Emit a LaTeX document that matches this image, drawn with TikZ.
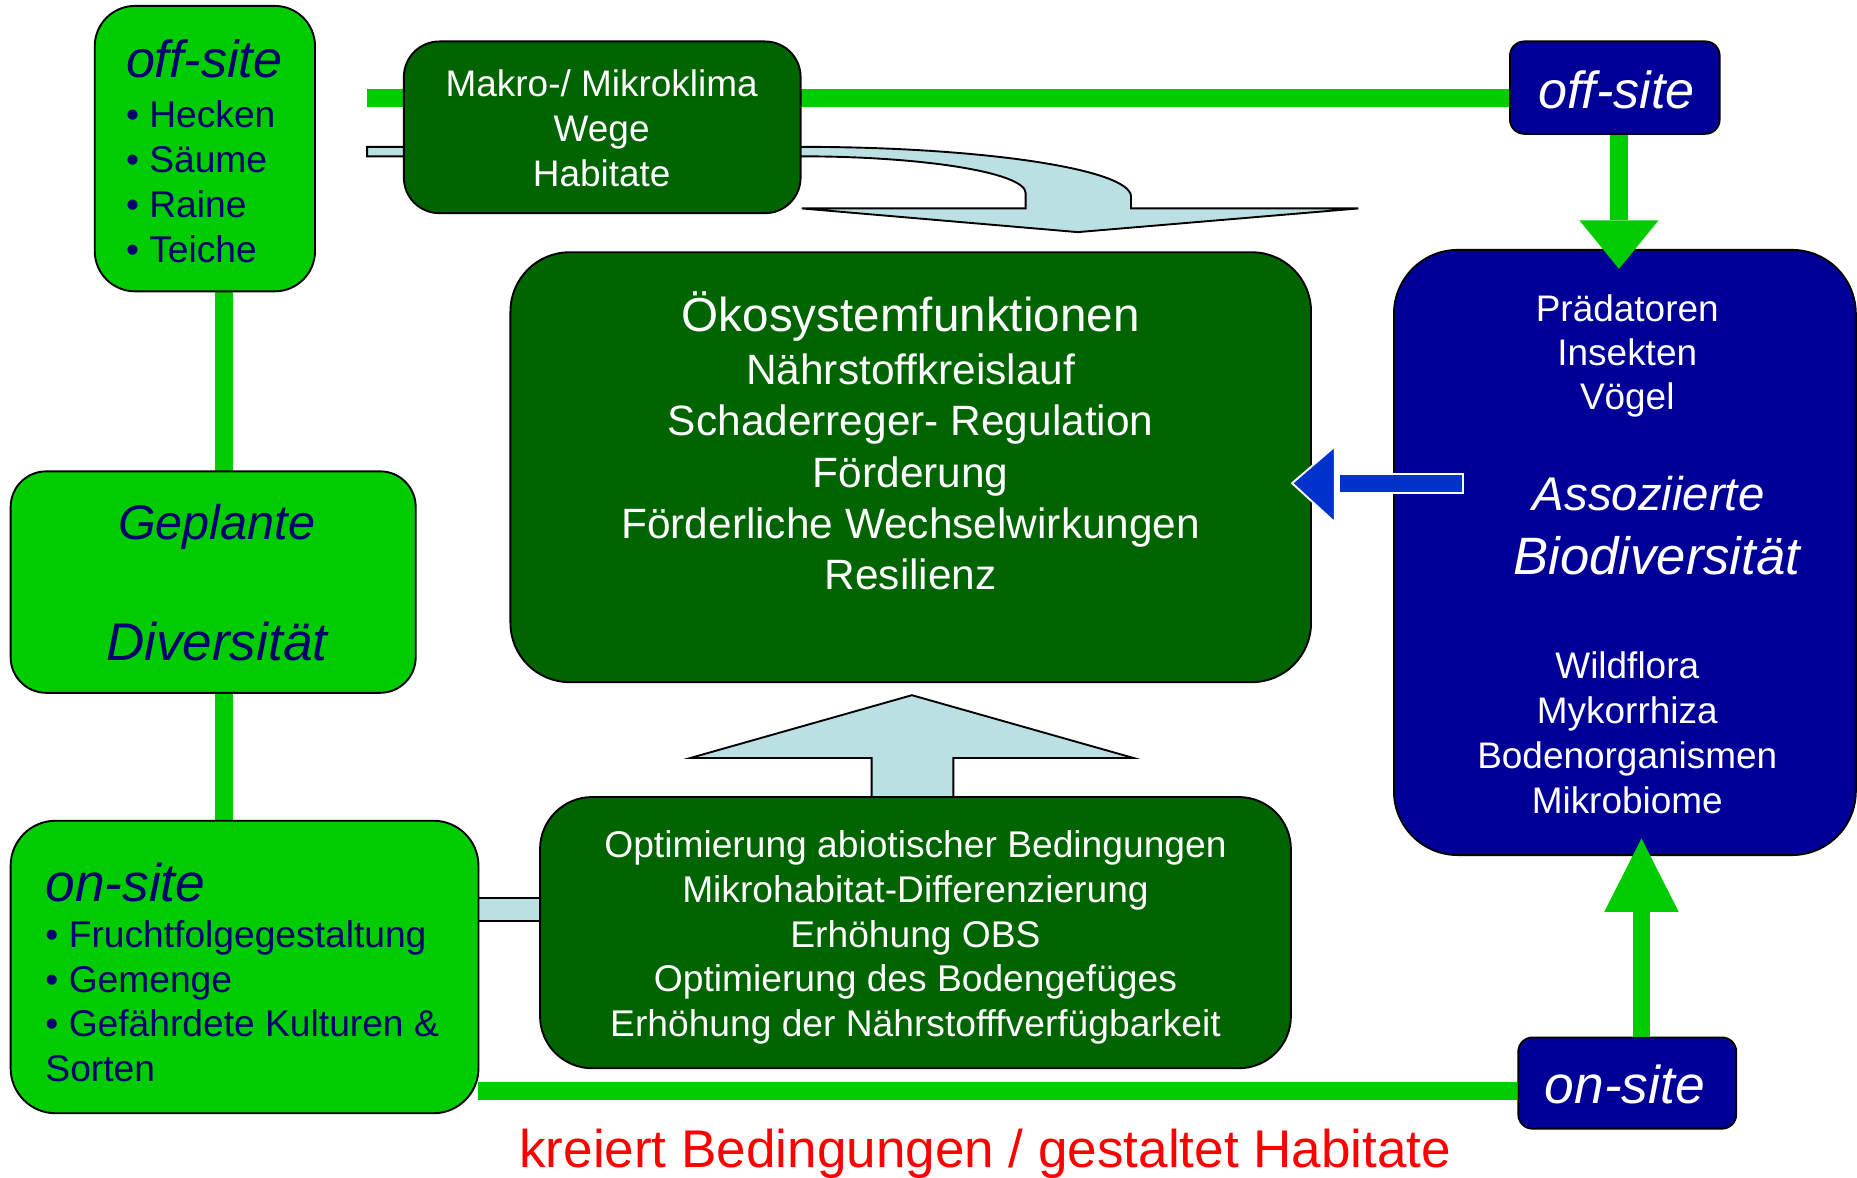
\documentclass[tikz,border=0pt]{standalone}
\usepackage{fontspec}
\setmainfont{Liberation Sans}
\usetikzlibrary{arrows.meta,backgrounds}
\definecolor{lgreen}{RGB}{0,204,0}
\definecolor{dgreen}{RGB}{0,100,0}
\definecolor{navyb}{RGB}{0,0,153}
\definecolor{txtnavy}{RGB}{0,0,110}
\definecolor{lblue}{RGB}{186,224,228}
\definecolor{arrblue}{RGB}{0,51,204}
\newcommand{\myfs}[2]{\fontsize{#1}{#2}\selectfont}
\begin{document}
\begin{tikzpicture}[x=0.5pt,y=-0.5pt,
  box/.style={draw=black,line width=0.8pt,inner sep=0pt},
  lgbox/.style={box,fill=lgreen},
  dgbox/.style={box,fill=dgreen},
  nbox/.style={box,fill=navyb},
  gline/.style={draw=lgreen,line width=7.5pt},
  wtxt/.style={text=white,inner sep=0pt,align=center},
  ntxt/.style={text=txtnavy,inner sep=0pt,align=left},
  lbshape/.style={fill=lblue,draw=black,line width=0.8pt,line join=miter},
]
\useasboundingbox (0,0) rectangle (1568,994);

% ---------- boxes ----------
\node[lgbox,rounded corners=17pt,minimum width=93pt,minimum height=120.5pt] (offL) at (173,125.5) {};
\node[lgbox,rounded corners=15pt,minimum width=171pt,minimum height=93.5pt] (plan) at (180,491.5) {};
\node[lgbox,rounded corners=19pt,minimum width=197.5pt,minimum height=123.5pt] (onL) at (206.5,816.5) {};
\node[dgbox,rounded corners=15pt,minimum width=167.5pt,minimum height=72.5pt] (makro) at (508.5,107.5) {};
\node[dgbox,rounded corners=25pt,minimum width=338pt,minimum height=181.5pt] (oeko) at (769,394.5) {};
\node[dgbox,rounded corners=22pt,minimum width=317pt,minimum height=114.5pt] (opt) at (773,787.5) {};
\node[nbox,rounded corners=6pt,minimum width=88.5pt,minimum height=39pt] (offR) at (1363.5,74) {};
\node[nbox,rounded corners=27pt,minimum width=195pt,minimum height=255.5pt] (assoc) at (1372,466.5) {};
\node[nbox,rounded corners=6pt,minimum width=92pt,minimum height=38.5pt] (onR) at (1374,914.5) {};

% ---------- texts ----------
\node[ntxt,anchor=west,font=\myfs{22}{26}\itshape] (offLh) at (106,50) {off-site};
\node[ntxt,anchor=west,font=\myfs{15.7}{18.9}] (offLl) at (106,153.5)
  {• Hecken\\• Säume\\• Raine\\• Teiche};
\node[ntxt,align=center,font=\myfs{20.5}{24}\itshape] (planA) at (183,445) {Geplante};
\node[ntxt,align=center,font=\myfs{22.4}{24}\itshape] (planB) at (183,542) {Diversität};
\node[ntxt,anchor=west,font=\myfs{22.5}{26}\itshape] (onLh) at (38,745) {on-site};
\node[ntxt,anchor=west,font=\myfs{15.7}{18.85}] (onLl) at (38,845.5)
  {• Fruchtfolgegestaltung\\• Gemenge\\• Gefährdete Kulturen \&\\Sorten};
\node[wtxt,font=\myfs{15.6}{19}] (makroT) at (508,108)
  {Makro-/ Mikroklima\\Wege\\Habitate};
\node[wtxt,font=\myfs{20.1}{24}] (oekoH) at (769,267) {Ökosystemfunktionen};
\node[wtxt,font=\myfs{17.9}{21.6}] (oekoT) at (769,398.5)
  {Nährstoffkreislauf\\Schaderreger- Regulation\\Förderung\\Förderliche Wechselwirkungen\\Resilienz};
\node[wtxt,font=\myfs{15.7}{18.9}] (optT) at (773,791.5)
  {Optimierung abiotischer Bedingungen\\Mikrohabitat-Differenzierung\\Erhöhung OBS\\Optimierung des Bodengefüges\\Erhöhung der Nährstofffverfügbarkeit};
\node[wtxt,font=\myfs{22}{26}\itshape] (offRT) at (1365,76) {off-site};
\node[wtxt,font=\myfs{22.5}{26}\itshape] (onRT) at (1372,916) {on-site};
\node[wtxt,font=\myfs{15.6}{18.75}] (assocA) at (1374,300.5) {Prädatoren\\Insekten\\Vögel};
\node[wtxt,font=\myfs{20}{24}\itshape] (assocH1) at (1392,417) {Assoziierte};
\node[wtxt,font=\myfs{22.2}{24}\itshape] (assocH2) at (1399,469) {Biodiversität};
\node[wtxt,font=\myfs{15.6}{19}] (assocB) at (1374,619) {Wildflora\\Mykorrhiza\\Bodenorganismen\\Mikrobiome};
\node[text=red,inner sep=0pt,font=\myfs{22.4}{26}] (red) at (832,974) {kreiert Bedingungen / gestaltet Habitate};

% ---------- coordinates ----------
\coordinate (vx) at (189,0);
\coordinate (tl) at (310,83);
\coordinate (bl) at (404,921);
\coordinate (ax) at (1367,0);
\coordinate (atip) at (1367,227);
\coordinate (bx) at (1386,0);
\coordinate (btip) at (1386,708);

% ---------- background connectors ----------
\begin{scope}[on background layer]
  \draw[gline] (vx |- offL.south) -- (vx |- onL.north);
  \draw[gline] (tl) -- (tl -| offR.west);
  \draw[gline] (bl) -- (bl -| onR.west);
  % curved light blue arrow from the Makro box
  \draw[lbshape] (310,124) -- (676,124) .. controls (830,124) and (955,143) .. (955,166)
    -- (955,176) -- (1147,176) -- (910,196) -- (677,176) -- (866,176) -- (866,163)
    .. controls (866,146) and (781,132) .. (676,132) -- (310,132) -- cycle;
  % light blue up arrow
  \draw[lbshape] (736,678) -- (736,640) -- (583,640) -- (770,587) -- (957,640) -- (805,640) -- (805,678);
  % light blue link on-site -> optimierung
  \draw[lbshape] (398,758) rectangle (462,778);
\end{scope}

% ---------- foreground arrows ----------
\draw[gline,-{Triangle[width=33.5pt,length=20.5pt,line width=0pt]}] (ax |- offR.south) -- (atip);
\draw[gline,-{Triangle[width=31.5pt,length=31pt,line width=0pt]}] (bx |- onR.north) -- (btip);
\fill[arrblue,draw=white,line width=0.8pt] (1127,377) -- (1091,408) -- (1127,441) -- cycle;
\fill[arrblue,draw=white,line width=0.8pt] (1131,400) rectangle (1235,416);
\end{tikzpicture}
\end{document}
